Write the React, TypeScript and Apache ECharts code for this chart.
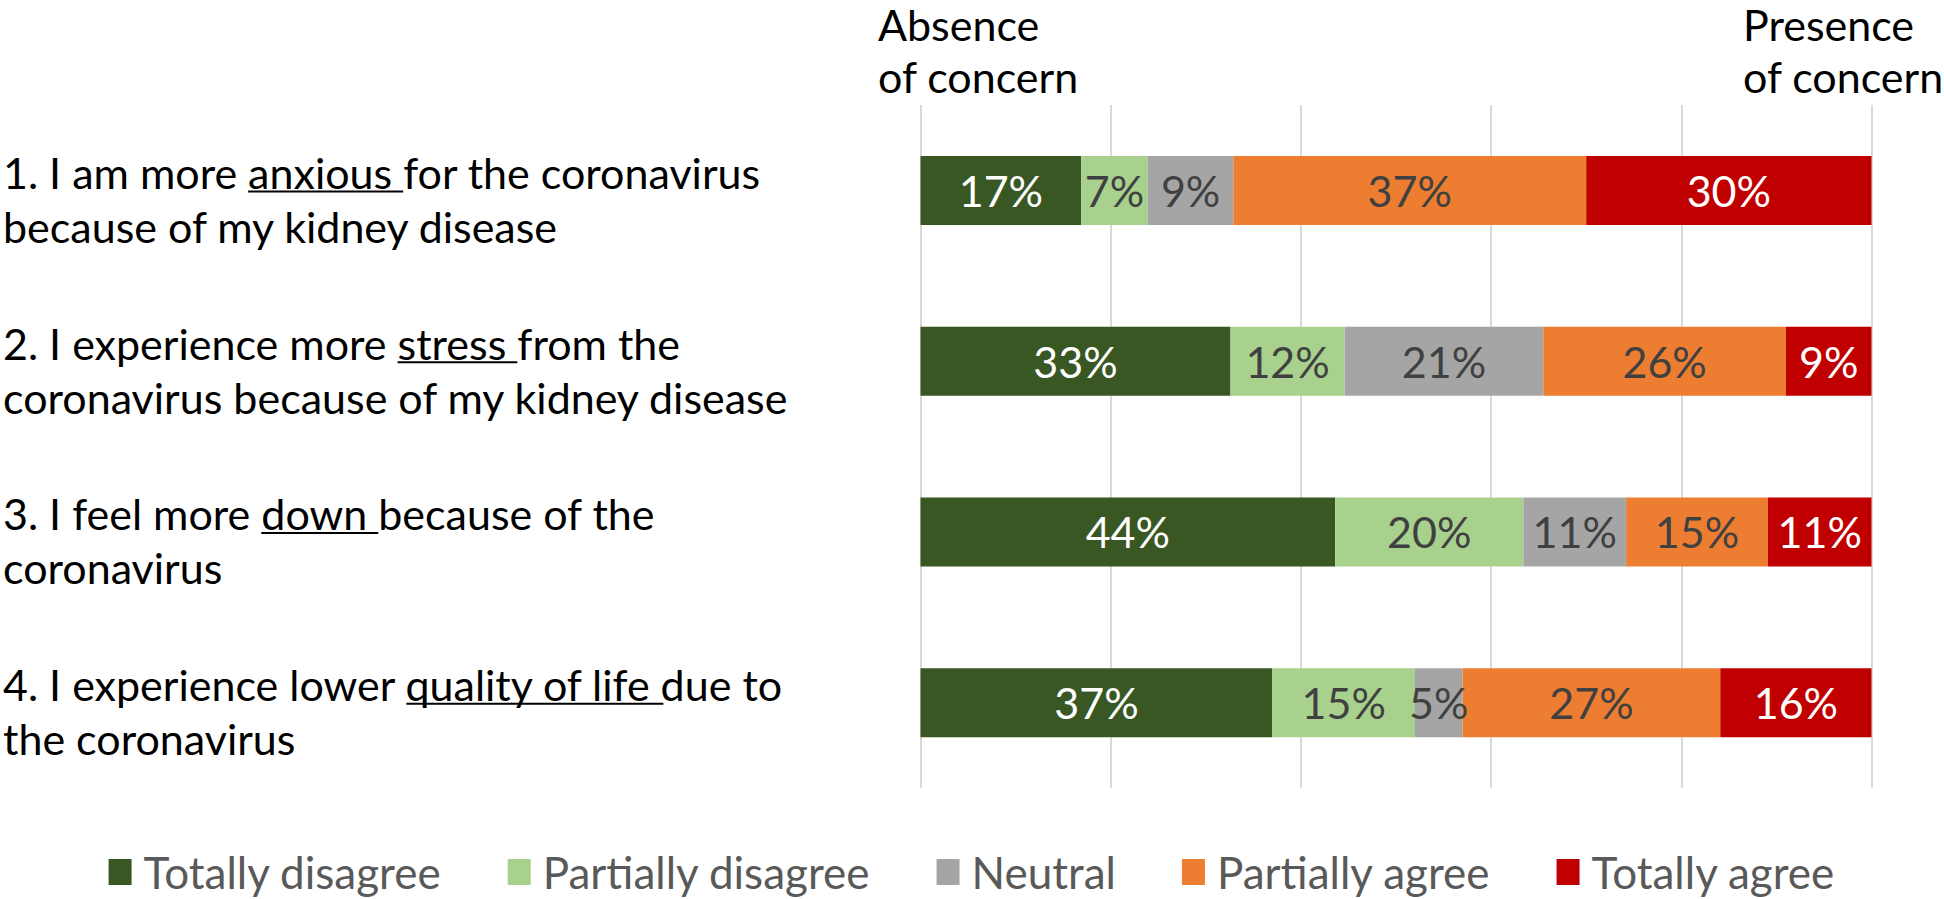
import React, { useEffect, useRef } from "react";
import * as echarts from "echarts";

const categories = [
  "1. I am more anxious for the coronavirus\nbecause of my kidney disease",
  "2. I experience more stress from the\ncoronavirus because of my kidney disease",
  "3. I feel more down because of the\ncoronavirus",
  "4. I experience lower quality of life due to\nthe coronavirus",
];
const underlined = ["anxious ", "stress ", "down ", "quality of life "];
const seriesNames = ["Totally disagree", "Partially disagree", "Neutral", "Partially agree", "Totally agree"];
const totallyDisagree = [16.9, 32.6, 43.6, 37.0];
const partiallyDisagree = [7.0, 12.0, 19.8, 15.0];
const neutral = [9.0, 20.9, 10.8, 5.0];
const partiallyAgree = [37.1, 25.5, 14.9, 27.1];
const totallyAgree = [30.0, 9.0, 10.9, 15.9];
const axisMin = 0;
const axisMax = 100;
const axisStep = 20;
const leftHeader = ["Absence", "of concern"];
const rightHeader = ["Presence", "of concern"];

const seriesValues = [totallyDisagree, partiallyDisagree, neutral, partiallyAgree, totallyAgree];
const colors = ["#385723", "#A9D18E", "#A5A5A5", "#ED7D31", "#C00000"];
const labelColors = ["#FFFFFF", "#404040", "#404040", "#404040", "#FFFFFF"];

const FONT = "Lato";
const FS = 43;
const GRID_LEFT = 920.5;
const GRID_RIGHT_X = 1871.5;
const LABEL_X = 3;
// first line box 72px, second 36px -> lines centred at c-18 and c+36
const LH_A = 72;
const LH_B = 36;
const LINE1_OFFSET = -18;
const UNDERLINE_DROP = 19;

export default function App() {
  const ref = useRef<HTMLDivElement>(null);
  useEffect(() => {
    if (!ref.current) return;
    const chart = echarts.init(ref.current, null, { renderer: "svg" });
    const richBase = { fontFamily: FONT, fontSize: FS, color: "#000000" };
    const option: any = {
      animation: false,
      backgroundColor: "#FFFFFF",
      grid: { left: GRID_LEFT, right: 1944 - GRID_RIGHT_X, top: 105, height: 683 },
      xAxis: {
        type: "value",
        min: axisMin,
        max: axisMax,
        interval: axisStep,
        axisLabel: { show: false },
        axisLine: { show: false },
        axisTick: { show: false },
        splitLine: { show: true, lineStyle: { color: "#D9D9D9", width: 2 } },
      },
      yAxis: {
        type: "category",
        data: categories,
        inverse: true,
        axisLine: { show: false },
        axisTick: { show: false },
        axisLabel: {
          align: "left",
          margin: GRID_LEFT - LABEL_X,
          fontFamily: FONT,
          fontSize: FS,
          color: "#000000",
          formatter: (v: string) =>
            v
              .split("\n")
              .map((l, i) => `{${i === 0 ? "a" : "b"}|${l}}`)
              .join("\n"),
          rich: {
            a: { ...richBase, lineHeight: LH_A },
            b: { ...richBase, lineHeight: LH_B },
          },
        },
      },
      legend: {
        data: seriesNames,
        left: "center",
        top: 845,
        icon: "rect",
        itemWidth: 23,
        itemHeight: 26,
        itemGap: 66,
        textStyle: { fontFamily: FONT, fontSize: 44, color: "#595959", padding: [0, 0, 0, 7] },
      },
      series: seriesNames.map((name, k) => ({
        name,
        type: "bar",
        stack: "total",
        barWidth: 69,
        data: seriesValues[k],
        itemStyle: { color: colors[k] },
        label: {
          show: true,
          position: "inside",
          formatter: (p: any) => Math.round(p.value) + "%",
          fontFamily: FONT,
          fontSize: FS,
          color: labelColors[k],
        },
      })),
    };
    chart.setOption(option);

    const ctx = document.createElement("canvas").getContext("2d")!;
    ctx.font = `${FS}px ${FONT}`;
    const lines = categories.map((c, i) => {
      const first = c.split("\n")[0];
      const idx = first.indexOf(underlined[i]);
      const x1 = LABEL_X + ctx.measureText(first.slice(0, idx)).width;
      const x2 = x1 + ctx.measureText(underlined[i]).width;
      const yc = chart.convertToPixel({ yAxisIndex: 0 }, i) as number;
      const y = yc + LINE1_OFFSET + UNDERLINE_DROP;
      return {
        type: "line",
        shape: { x1, y1: y, x2, y2: y },
        style: { stroke: "#000000", lineWidth: 2 },
        silent: true,
      };
    });
    const headerText = (text: string, x: number, y: number) => ({
      type: "text",
      x,
      y,
      style: {
        text,
        font: `${FS}px ${FONT}`,
        fill: "#000000",
        lineHeight: 40,
        align: "left",
        verticalAlign: "middle",
      },
    });
    chart.setOption({
      graphic: [
        headerText(leftHeader[0], 878, 24),
        headerText(leftHeader[1], 878, 76),
        headerText(rightHeader[0], 1743, 24),
        headerText(rightHeader[1], 1743, 76),
        ...lines,
      ],
    });
    return () => chart.dispose();
  }, []);
  return (
    <div
      ref={ref}
      style={{ position: "absolute", left: 0, top: 0, width: 1944, height: 899 }}
    />
  );
}
